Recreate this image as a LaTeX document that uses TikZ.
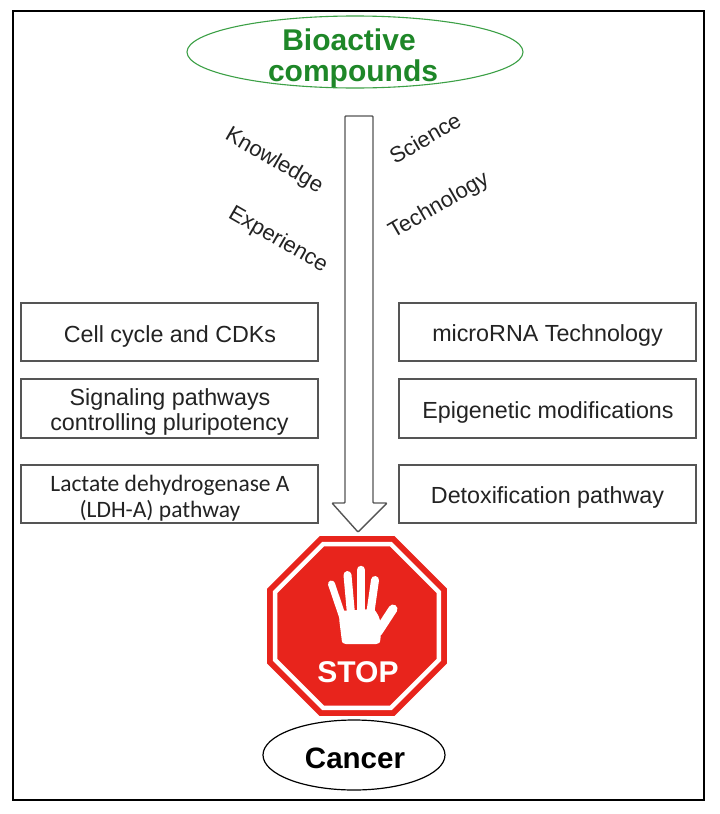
\documentclass[tikz,border=0pt]{standalone}
\usepackage{fontspec}
\setmainfont{Liberation Sans}
\newfontfamily\carl{Carlito}
\usetikzlibrary{calc,shapes.geometric}
\definecolor{bioGreen}{RGB}{30,135,40}
\definecolor{ellGreen}{RGB}{60,160,70}
\definecolor{boxGray}{RGB}{85,85,85}
\definecolor{txtGray}{RGB}{35,35,35}
\definecolor{stopRed}{RGB}{232,36,28}
\begin{document}
\begin{tikzpicture}[x=1pt,y=-1pt,
  stepbox/.style={draw=boxGray,line width=1.3pt,minimum width=297pt,minimum height=58pt,inner sep=0pt},
  boxtxt/.style={anchor=base,inner sep=0pt,text=txtGray,font=\fontsize{23.3}{26}\selectfont},
  calibritxt/.style={anchor=base,inner sep=0pt,text=txtGray,font=\carl\fontsize{23.5}{26}\selectfont},
  rotword/.style={inner sep=0pt,text=txtGray,font=\fontsize{22}{24}\selectfont},
  bigword/.style={anchor=base,inner sep=0pt,font=\bfseries\fontsize{30}{32}\selectfont},
  arrowline/.style={draw=boxGray,line width=1.4pt,fill=white,line join=round}]
\useasboundingbox (0,0) rectangle (720,814);
\fill[white] (0,0) rectangle (720,814);
% frame
\draw[line width=2.6pt,black] (13,11) rectangle (704,800);

% Bioactive compounds
\node[draw=ellGreen,line width=1.1pt,ellipse,minimum width=336pt,minimum height=72pt,inner sep=0pt] (bio) at (355,52) {};
\node[bigword,text=bioGreen] (bio1) at (349,50) {Bioactive};
\node[bigword,text=bioGreen] (bio2) at (353,81.5) {compounds};

% big arrow
\coordinate (atop) at (359,116);
\coordinate (atip) at (358,532);
\draw[arrowline,rounded corners=0.8pt] (345,116) -- (373,116) -- (373,503) -- (387,503) -- (atip) -- (332,503) -- (345,503) -- cycle;

% rotated words
\node[rotword,rotate=-30] (know) at (274,161) {Knowledge};
\node[rotword,rotate=-30] (expe) at (278,240) {Experience};
\node[rotword,rotate=30] (scie) at (425,138) {Science};
\node[rotword,rotate=30] (tech) at (439,206) {Technology};

% left boxes
\node[stepbox] (l1) at (169.5,332) {};
\node[stepbox,minimum height=59pt] (l2) at (169.5,408.5) {};
\node[stepbox] (l3) at (169.5,494) {};
\node[boxtxt] (l1t) at (170,342) {Cell cycle and CDKs};
\node[boxtxt] (l2a) at (170,405) {Signaling pathways};
\node[boxtxt] (l2b) at (169.5,430.5) {controlling pluripotency};
\node[calibritxt] (l3a) at (170,491.5) {Lactate dehydrogenase A};
\node[calibritxt] (l3b) at (160,517) {(LDH-A) pathway};

% right boxes
\node[stepbox] (r1) at (547.5,332) {};
\node[stepbox,minimum height=59pt] (r2) at (547.5,408.5) {};
\node[stepbox] (r3) at (547.5,494) {};
\node[boxtxt] (r1t) at (547.5,341.7) {microRNA Technology};
\node[boxtxt] (r2t) at (548,418.3) {Epigenetic modifications};
\node[boxtxt] (r3t) at (547.5,503.3) {Detoxification pathway};

% stop sign
\coordinate (sc) at (357,626);
\fill[stopRed] ($(sc)+(22.5:97.4)$) \foreach \a in {67.5,112.5,...,337.5}{ -- ($(sc)+(\a:97.4)$)} -- cycle;
\draw[white,line width=4.5pt,line join=miter] ($(sc)+(22.5:88.6)$) \foreach \a in {67.5,112.5,...,337.5}{ -- ($(sc)+(\a:88.6)$)} -- cycle;
% hand
\begin{scope}[white,line cap=round]
\draw[line width=7pt] (331.5,584) -- (343,618);
\draw[line width=8pt] (347.5,575) -- (351,614);
\draw[line width=8.5pt] (361,570) -- (361,614);
\draw[line width=8pt] (375,580) -- (370,615);
\draw[line width=9pt] (393,609) -- (378,632);
\fill (339,611) -- (374,609) .. controls (379,616) .. (381,625) -- (380.5,638) .. controls (380,643) .. (376,644) -- (346,644) .. controls (342,643) .. (341.5,638) -- (339.5,622) -- cycle;
\end{scope}
\node[anchor=base,inner sep=0pt,text=white,font=\bfseries\fontsize{30}{32}\selectfont] (stop) at (358,682) {STOP};

% Cancer
\node[draw=black,line width=1.2pt,ellipse,minimum width=182pt,minimum height=70pt,inner sep=0pt] (canc) at (354,755) {};
\node[bigword,text=black,font=\bfseries\fontsize{29.5}{32}\selectfont] (canct) at (355,768) {Cancer};
\end{tikzpicture}
\end{document}
